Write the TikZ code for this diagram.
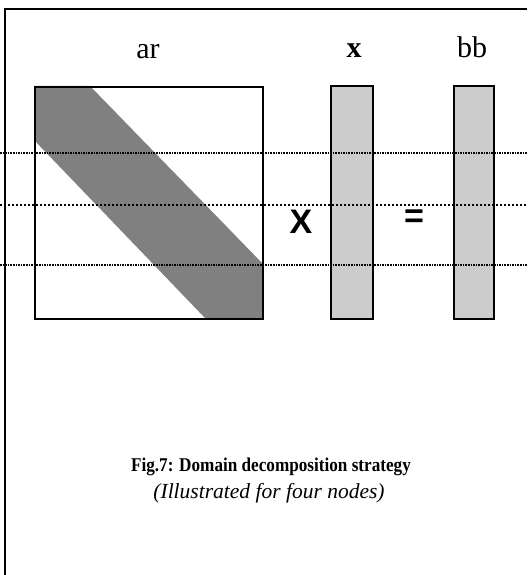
\documentclass[tikz,border=0pt]{standalone}
\usepackage{fontspec}
\usepackage{graphicx}
\setmainfont{Liberation Serif}
\newfontfamily\symfont{Liberation Sans}
\begin{document}
\begin{tikzpicture}[x=1pt,y=-1pt,
  frameline/.style={line width=2.4pt},
  matbox/.style={draw,line width=1.8pt},
  colfill/.style={fill=black!20},
  bandfill/.style={fill=black!50},
  splitline/.style={line width=1.6pt,densely dotted},
  splitmid/.style={line width=2pt,dotted},
  lbl/.style={font=\fontsize{30}{32}\selectfont,inner sep=0pt,anchor=base},
  opsym/.style={font=\symfont\bfseries\fontsize{34}{36}\selectfont,inner sep=0pt}]
\useasboundingbox[fill=white] (0,0) rectangle (527,575);
% outer frame
\draw[frameline] (5,575) -- (5,9) -- (527,9);
% matrix ar
\fill[bandfill] (34,86) -- (90,86) -- (262,263) -- (262,318) -- (205,318) -- (34,140) -- cycle;
\node[matbox,minimum width=228pt,minimum height=232pt,anchor=north west,inner sep=0pt] (ar) at (34,86) {};
% vectors
\node[matbox,colfill,minimum width=42pt,minimum height=233pt,anchor=north west,inner sep=0pt] (xv) at (330,85) {};
\node[matbox,colfill,minimum width=40pt,minimum height=233pt,anchor=north west,inner sep=0pt] (bv) at (453,85) {};
% labels
\node[lbl] (arl) at (148,59) {ar};
\node[lbl] (xl) at (354,58) {\textbf{x}};
\node[lbl] (bbl) at (472,58) {bb};
\node[opsym] (times) at (301,222) {X};
\node[opsym] (eq) at (414,219) {=};
% partition lines
\coordinate (l1a) at (0,153); \coordinate (l1b) at (527,153);
\coordinate (l2a) at (0,205); \coordinate (l2b) at (527,205);
\coordinate (l3a) at (0,265); \coordinate (l3b) at (527,265);
\draw[splitline] (l1a) -- (l1b);
\draw[splitmid] (l2a) -- (l2b);
\draw[splitline] (l3a) -- (l3b);
% caption
\node[inner sep=0pt] (cap) at (271,467) {\scalebox{0.88}[1]{\bfseries\fontsize{19.5}{22}\selectfont Fig.7: Domain decomposition strategy}};
\node[font=\itshape\fontsize{21.5}{24}\selectfont,inner sep=0pt] (sub) at (269,493) {(Illustrated for four nodes)};
\end{tikzpicture}
\end{document}
